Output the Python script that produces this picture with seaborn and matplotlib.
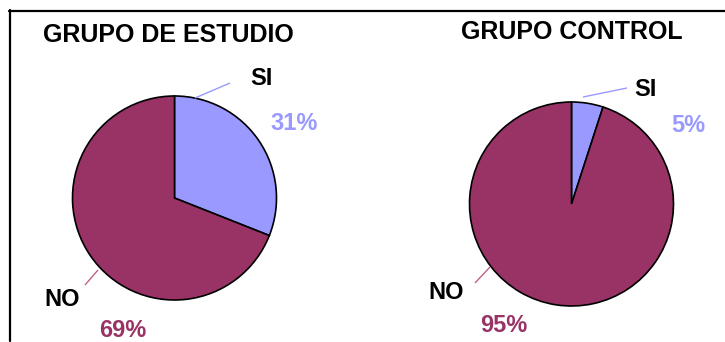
import matplotlib
matplotlib.use("Agg")
import matplotlib.pyplot as plt
from matplotlib.lines import Line2D
import seaborn as sns

# Data
groups = ["GRUPO DE ESTUDIO", "GRUPO CONTROL"]
categories = ["SI", "NO"]
si_pct = [31, 5]
no_pct = [69, 95]

sns.set_theme(style="white")
plt.rcParams["font.family"] = ["Liberation Sans", "DejaVu Sans"]

si_color, no_color = sns.color_palette(["#9999FF", "#993366"])

W, H = 725, 342
fig = plt.figure(figsize=(W / 100, H / 100), dpi=100)
fig.patch.set_facecolor("white")
ax = fig.add_axes([0, 0, 1, 1])


def py(y):
    """Convert a pixel row (measured from the top) to the axes' y value."""
    return H - y


# Placement of each panel (pixels from the top-left corner)
layout = [
    dict(center=(174.5, 198), radius=102, title=(168, 42),
         si_lab=(261, 85), si_pct=(294, 130), no_lab=(62, 306), no_pct=(123, 337),
         si_lead=((195, 98), (230, 83)), no_lead=((98, 270), (85, 285))),
    dict(center=(571.5, 204), radius=102, title=(572, 39),
         si_lab=(645, 96), si_pct=(688, 132), no_lab=(446, 299), no_pct=(504, 332),
         si_lead=((583, 97), (627, 88)), no_lead=((490, 267), (475, 283))),
]

fs = 17
title_fs = 18
for g, si, no, L in zip(groups, si_pct, no_pct, layout):
    cx, cy = L["center"]
    ax.pie([si, no], colors=[si_color, no_color], startangle=90, counterclock=False,
           center=(cx, py(cy)), radius=L["radius"],
           wedgeprops=dict(edgecolor="black", linewidth=1.2))
    ax.text(L["title"][0], py(L["title"][1]), g, ha="center", va="baseline",
            fontsize=title_fs, fontweight="bold", color="black")
    ax.text(L["si_lab"][0], py(L["si_lab"][1]), categories[0], ha="center", va="baseline",
            fontsize=fs, fontweight="bold", color="black")
    ax.text(L["no_lab"][0], py(L["no_lab"][1]), categories[1], ha="center", va="baseline",
            fontsize=fs, fontweight="bold", color="black")
    ax.text(L["si_pct"][0], py(L["si_pct"][1]), f"{si}%", ha="center", va="baseline",
            fontsize=fs, fontweight="bold", color=si_color)
    ax.text(L["no_pct"][0], py(L["no_pct"][1]), f"{no}%", ha="center", va="baseline",
            fontsize=fs, fontweight="bold", color=no_color)
    (x0, y0), (x1, y1) = L["si_lead"]
    ax.plot([x0, x1], [py(y0), py(y1)], color=si_color, lw=1.0, solid_capstyle="butt")
    (x0, y0), (x1, y1) = L["no_lead"]
    ax.plot([x0, x1], [py(y0), py(y1)], color="#C0608A", lw=1.0, solid_capstyle="butt")

ax.set_xlim(0, W)
ax.set_ylim(0, H)
ax.set_aspect("equal")
ax.axis("off")

# Frame: top and left edges
fig.add_artist(Line2D([9 / W, 1], [1 - 10.5 / H, 1 - 10.5 / H], color="black", lw=1.6,
                      transform=fig.transFigure))
fig.add_artist(Line2D([9.5 / W, 9.5 / W], [1 - 10 / H, 0.003], color="black", lw=1.6,
                      transform=fig.transFigure))

fig.savefig("out.png", dpi=100, facecolor="white")
